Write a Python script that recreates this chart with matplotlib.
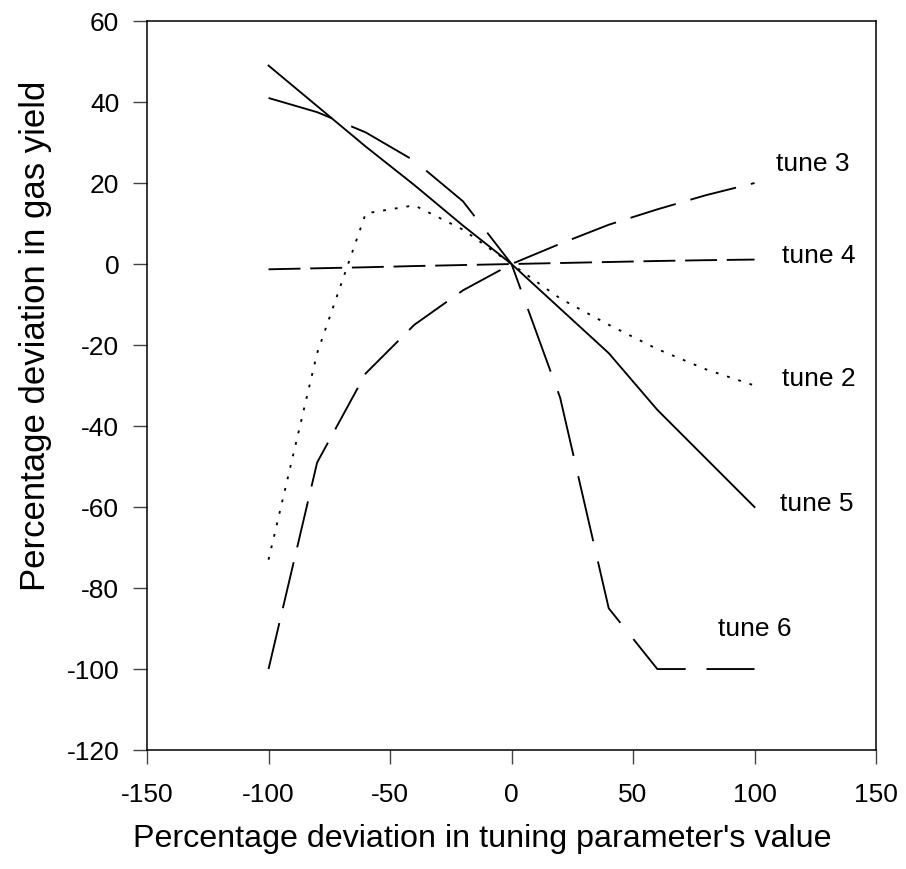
import matplotlib
matplotlib.use("Agg")
import matplotlib.pyplot as plt

plt.rcParams['font.family'] = ['Liberation Sans', 'DejaVu Sans']
plt.rcParams['lines.scale_dashes'] = False
plt.rcParams['axes.unicode_minus'] = False

# Deviation in tuning parameter (%) and resulting gas-yield deviation (%)
x = [-100, -80, -60, -40, -20, 0, 20, 40, 60, 80, 100]
tune2 = [-73, -22, 12.5, 14.5, 8.5, 0, -8.5, -15, -21, -26, -30]
tune3 = [-100, -49, -27, -15, -6.5, 0, 5, 9.7, 13.5, 17, 20]
tune4 = [-1.3, -1.05, -0.8, -0.5, -0.25, 0, 0.25, 0.5, 0.75, 0.95, 1.1]
tune5 = [49, 39, 29, 19.5, 9.5, 0, -11, -22, -36, -48, -60]
tune6 = [41, 37.5, 32.5, 25.5, 15.5, 0, -33, -85, -100, -100, -100]

labels = ["tune 3", "tune 4", "tune 2", "tune 5", "tune 6"]
label_x = [108.7, 111.3, 111.3, 110.5, 85]
label_y = [24.7, 2.0, -28.3, -59.2, -90.1]

fig = plt.figure(figsize=(9.06, 8.69), dpi=100)
ax = fig.add_axes([0.1623, 0.1369, 0.8046, 0.8389])

lw = 1.35
ax.plot(x, tune2, color='black', lw=lw, dashes=(2, 6.5))
ax.plot(x, tune3, color='black', lw=lw, dashes=(34, 11))
ax.plot(x, tune4, color='black', lw=lw, dashes=(23, 7))
ax.plot(x, tune5, color='black', lw=lw)
ax.plot(x, tune6, color='black', lw=lw, dashes=(48, 15))

for t, tx, ty in zip(labels, label_x, label_y):
    ax.text(tx, ty, t, fontsize=19, ha='left', va='center')

ax.set_xlim(-150, 150)
ax.set_ylim(-120, 60)
ax.set_xticks(range(-150, 151, 50))
ax.set_yticks(range(-120, 61, 20))
ax.tick_params(axis='both', direction='out', length=10, width=1,
               labelsize=19, color='#444444')
ax.tick_params(axis='x', pad=14)
ax.tick_params(axis='y', pad=10)
for s in ax.spines.values():
    s.set_linewidth(1.1)

ax.set_xlabel("Percentage deviation in tuning parameter's value", fontsize=23.2)
ax.set_ylabel("Percentage deviation in gas yield", fontsize=25)
ax.xaxis.set_label_coords(0.46, -0.102)
ax.yaxis.set_label_coords(-0.131, 0.568)

fig.savefig("out.png", dpi=100)
